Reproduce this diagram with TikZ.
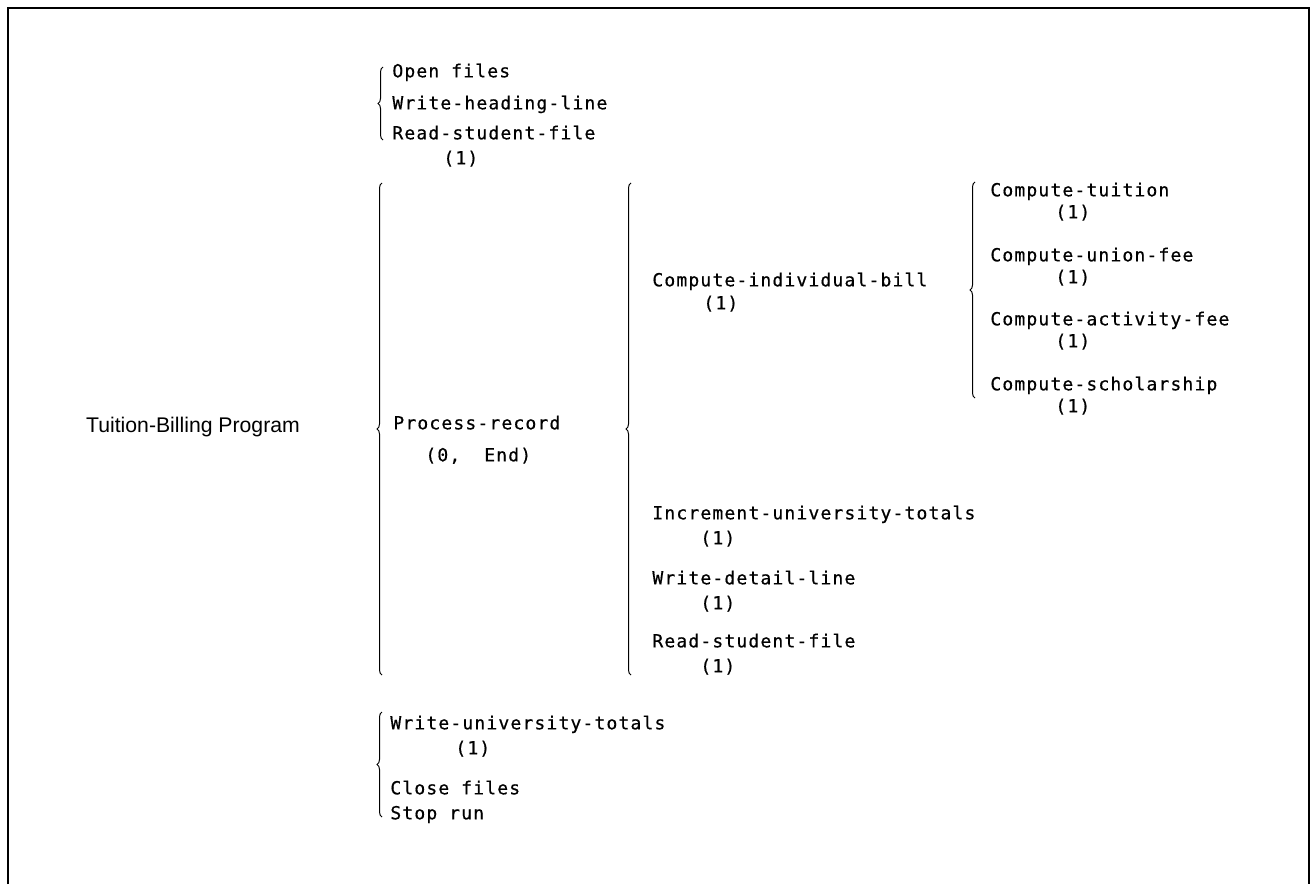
\documentclass[tikz,border=0pt]{standalone}
\usepackage{fontspec}
\newfontfamily\orrfont[LetterSpace=6.5, FakeBold=0.6]{DejaVu Sans Mono}
\newfontfamily\headfont{Liberation Sans}
\usepackage{tikz}
\usetikzlibrary{decorations.pathreplacing}

\begin{document}
\begin{tikzpicture}[x=0.5pt, y=-0.5pt,
  item/.style={anchor=mid west, inner sep=0pt, font=\orrfont\fontsize{9}{10}\selectfont},
  orrbrace/.style={decorate, decoration={brace, amplitude=2.5pt, aspect=0.5}, line width=0.5pt}]
  \useasboundingbox (0,0) rectangle (1311,884);

  %--- frame ---
  \draw[line width=0.9pt] (8,884) -- (8,8) -- (1309,8) -- (1309,884);

  %--- program name ---
  \node[font=\headfont\fontsize{10.6}{12}\selectfont, inner sep=0pt] (prog) at (193,427) {Tuition-Billing Program};

  %--- begin part ---
  \coordinate (bA1) at (383,140);
  \coordinate (bA2) at (383,67);
  \draw[orrbrace] (bA1) -- (bA2);
  \node[item] (open)    at (392,73)  {Open files};
  \node[item] (heading) at (392,105) {Write-heading-line};
  \node[item] (readA)   at (392,135) {Read-student-file};
  \node[item] (readAn)  at (443,160) {(1)};

  %--- repeated part ---
  \coordinate (bP1) at (382,675);
  \coordinate (bP2) at (382,183);
  \draw[orrbrace] (bP1) -- (bP2);
  \node[item] (process)  at (393,425) {Process-record};
  \node[item] (processn) at (425,457) {(0,\ \ End)};

  \coordinate (bR1) at (631,675);
  \coordinate (bR2) at (631,183);
  \draw[orrbrace] (bR1) -- (bR2);
  \node[item] (indiv)  at (652,282) {Compute-individual-bill};
  \node[item] (indivn) at (703,305) {(1)};

  %--- compute steps ---
  \coordinate (bC1) at (975,398);
  \coordinate (bC2) at (975,182);
  \draw[orrbrace] (bC1) -- (bC2);
  \node[item] (tuition)   at (990,192)  {Compute-tuition};
  \node[item] (tuitionn)  at (1055,214) {(1)};
  \node[item] (union)     at (990,257)  {Compute-union-fee};
  \node[item] (unionn)    at (1055,279) {(1)};
  \node[item] (activity)  at (990,321)  {Compute-activity-fee};
  \node[item] (activityn) at (1055,343) {(1)};
  \node[item] (scholar)   at (990,386)  {Compute-scholarship};
  \node[item] (scholarn)  at (1055,408) {(1)};

  \node[item] (incr)    at (652,515) {Increment-university-totals};
  \node[item] (incrn)   at (700,540) {(1)};
  \node[item] (detail)  at (652,580) {Write-detail-line};
  \node[item] (detailn) at (700,605) {(1)};
  \node[item] (readB)   at (652,643) {Read-student-file};
  \node[item] (readBn)  at (700,668) {(1)};

  %--- end part ---
  \coordinate (bE1) at (382,817);
  \coordinate (bE2) at (382,712);
  \draw[orrbrace] (bE1) -- (bE2);
  \node[item] (wtot)  at (390,725) {Write-university-totals};
  \node[item] (wtotn) at (455,750) {(1)};
  \node[item] (close) at (390,790) {Close files};
  \node[item] (stop)  at (390,815) {Stop run};

\end{tikzpicture}
\end{document}
